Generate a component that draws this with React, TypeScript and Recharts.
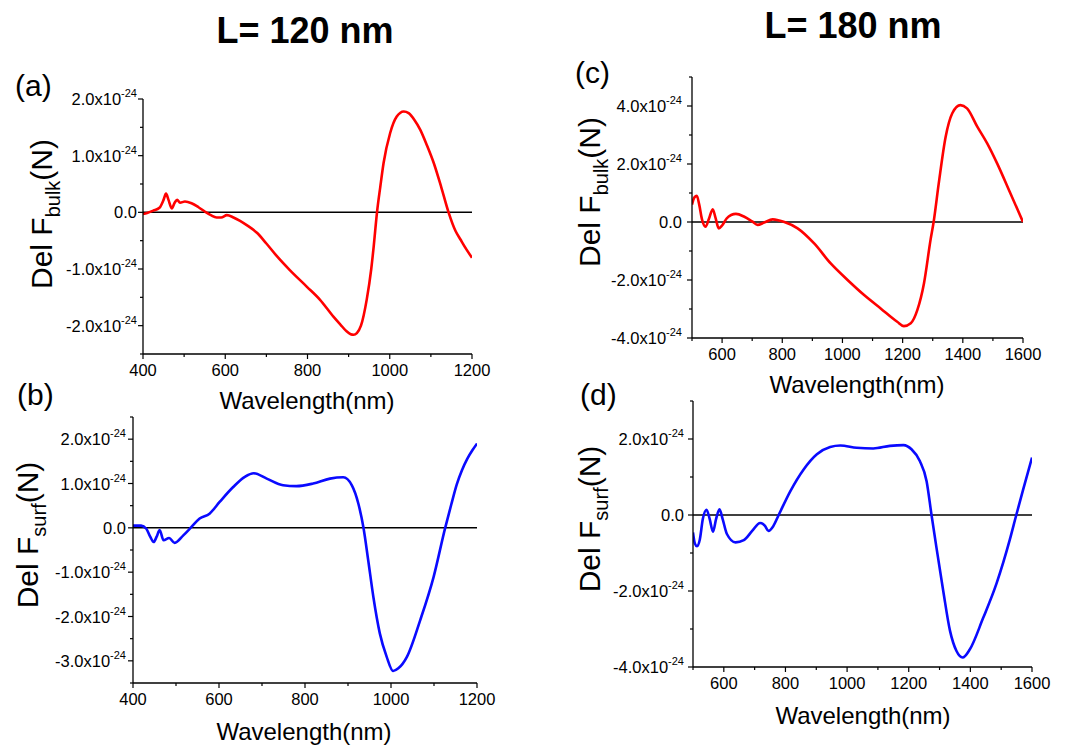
import React from "react";
import { LineChart, Line, XAxis, YAxis, ReferenceLine } from "recharts";

const FONT = "'Liberation Sans', Arial, sans-serif";

// wavelength in nm, force in units of 1e-24 N
const wlA = [400, 410, 425, 440, 450, 456, 462, 470, 477, 483, 490, 502, 518, 535, 551, 565, 579, 590, 604, 620, 636, 655, 677, 700, 725, 757, 798, 830, 863, 880, 895, 905, 912, 920, 930, 944, 955, 961, 969, 977, 985, 1001, 1017, 1034, 1046, 1060, 1074, 1090, 1107, 1125, 1143, 1160, 1172, 1186, 1200];
const bulkA = [-0.03, -0.01, 0.03, 0.08, 0.22, 0.33, 0.22, 0.07, 0.17, 0.22, 0.17, 0.19, 0.16, 0.09, 0.01, -0.05, -0.09, -0.09, -0.05, -0.09, -0.15, -0.24, -0.36, -0.55, -0.77, -1.02, -1.31, -1.54, -1.84, -1.98, -2.1, -2.15, -2.16, -2.13, -2.0, -1.54, -1.0, -0.6, 0.0, 0.45, 0.87, 1.4, 1.69, 1.78, 1.75, 1.63, 1.46, 1.19, 0.87, 0.45, 0.0, -0.33, -0.48, -0.65, -0.8];

const wlB = [400, 419, 431, 440, 448, 455, 462, 471, 484, 497, 517, 536, 555, 578, 602, 633, 660, 681, 711, 749, 780, 819, 858, 889, 909, 924, 936, 947, 959, 974, 990, 1005, 1017, 1037, 1068, 1099, 1126, 1140, 1153, 1165, 1177, 1190, 1200];
const surfB = [0.05, 0.05, -0.02, -0.2, -0.32, -0.2, -0.05, -0.28, -0.23, -0.34, -0.17, 0.02, 0.21, 0.32, 0.59, 0.92, 1.15, 1.23, 1.11, 0.96, 0.94, 1.0, 1.11, 1.14, 0.96, 0.55, 0.0, -0.73, -1.56, -2.38, -2.91, -3.23, -3.17, -2.91, -2.08, -1.11, 0.0, 0.52, 0.98, 1.3, 1.55, 1.76, 1.9];

const wlC = [500, 508, 516, 524, 533, 545, 556, 569, 578, 589, 600, 615, 630, 646, 674, 700, 718, 740, 768, 790, 807, 851, 906, 961, 1017, 1072, 1127, 1182, 1204, 1227, 1249, 1271, 1293, 1303, 1320, 1343, 1365, 1392, 1414, 1448, 1481, 1514, 1558, 1600];
const bulkC = [0.6, 0.85, 0.9, 0.6, 0.1, -0.16, 0.1, 0.44, 0.15, -0.22, -0.12, 0.12, 0.24, 0.28, 0.18, 0.02, -0.1, -0.02, 0.09, 0.05, 0.0, -0.22, -0.74, -1.43, -2.0, -2.52, -2.98, -3.44, -3.59, -3.49, -3.03, -2.11, -0.6, 0.0, 1.33, 2.94, 3.75, 4.03, 3.92, 3.29, 2.71, 2.02, 0.99, 0.0];

const wlD = [500, 506, 513, 522, 532, 544, 554, 565, 575, 586, 596, 610, 638, 665, 692, 718, 733, 745, 760, 778, 816, 859, 902, 945, 978, 1031, 1085, 1139, 1183, 1209, 1236, 1258, 1274, 1290, 1312, 1334, 1355, 1375, 1398, 1441, 1485, 1528, 1549, 1571, 1600];
const surfD = [-0.46, -0.75, -0.82, -0.65, -0.1, 0.14, -0.1, -0.44, -0.1, 0.15, -0.1, -0.5, -0.72, -0.66, -0.42, -0.21, -0.28, -0.42, -0.3, 0.0, 0.63, 1.2, 1.6, 1.79, 1.83, 1.77, 1.75, 1.82, 1.84, 1.73, 1.42, 0.89, 0.0, -0.86, -2.0, -3.05, -3.58, -3.75, -3.54, -2.72, -1.8, -0.65, 0.0, 0.66, 1.51];

// axis ticks (all) and the labelled ones
const xTicksAB = [400, 500, 600, 700, 800, 900, 1000, 1100, 1200];
const xLabelsAB = [400, 600, 800, 1000, 1200];
const xTicksCD = [500, 600, 700, 800, 900, 1000, 1100, 1200, 1300, 1400, 1500, 1600];
const xLabelsCD = [600, 800, 1000, 1200, 1400, 1600];
const yTicksA = [-2.5, -2, -1.5, -1, -0.5, 0, 0.5, 1, 1.5, 2];
const yLabelsA = [-2, -1, 0, 1, 2];
const yTicksB = [-3.5, -3, -2.5, -2, -1.5, -1, -0.5, 0, 0.5, 1, 1.5, 2, 2.5];
const yLabelsB = [-3, -2, -1, 0, 1, 2];
const yTicksC = [-4, -3, -2, -1, 0, 1, 2, 3, 4, 5];
const yLabelsC = [-4, -2, 0, 2, 4];
const yTicksD = [-4, -3, -2, -1, 0, 1, 2, 3];
const yLabelsD = [-4, -2, 0, 2];

const zip = (xs: number[], ys: number[]) => xs.map((x, i) => ({ wl: x, f: ys[i] }));

type Box = { x0: number; y0: number; x1: number; y1: number };
type Plot = { left: number; top: number; right: number; bottom: number };

const YTitle = ({ tx, ty, sub }: any) => (
  <text x={tx} y={ty} transform={`rotate(-90, ${tx}, ${ty})`} textAnchor="middle" fontFamily={FONT} fontSize={30} fill="#000">
    Del F<tspan fontSize={20} dy={8}>{sub}</tspan>
    <tspan dy={-8}>(N)</tspan>
  </text>
);

const XTitle = ({ tx, ty }: any) => (
  <text x={tx} y={ty} textAnchor="middle" fontFamily={FONT} fontSize={24} fill="#000">
    Wavelength(nm)
  </text>
);

type PanelProps = {
  box: Box;
  plot: Plot;
  data: { wl: number; f: number }[];
  color: string;
  xDomain: [number, number];
  yDomain: [number, number];
  xTicks: number[];
  xLabels: number[];
  yTicks: number[];
  yLabels: number[];
  sub: string;
  yTitlePos: [number, number];
  xTitlePos: [number, number];
  gap: number;
};

const Panel = (p: PanelProps) => {
  const { box, plot } = p;
  const w = box.x1 - box.x0;
  const h = box.y1 - box.y0;
  const axisX = plot.left - box.x0;
  const axisY = plot.bottom - box.y0;
  const margin = { top: plot.top - box.y0, right: box.x1 - plot.right, bottom: 0, left: 0 };

  const xTick = (t: any) => {
    const v = t.payload.value;
    const major = p.xLabels.includes(v);
    return (
      <g>
        <line x1={t.x} x2={t.x} y1={axisY} y2={axisY + (major ? 5 : 3)} stroke="#000" strokeWidth={1.2} />
        {major && (
          <text x={t.x} y={axisY + 22} textAnchor="middle" fontFamily={FONT} fontSize={16.5} fill="#000">
            {v}
          </text>
        )}
      </g>
    );
  };

  const yTick = (t: any) => {
    const v = t.payload.value;
    const major = p.yLabels.includes(v);
    return (
      <g>
        <line x1={axisX - (major ? 5 : 3)} x2={axisX} y1={t.y} y2={t.y} stroke="#000" strokeWidth={1.2} />
        {major && (
          <text x={axisX - p.gap} y={t.y + 6} textAnchor="end" fontFamily={FONT} fontSize={16.5} fill="#000">
            {v === 0 ? "0.0" : `${v.toFixed(1)}x10`}
            {v !== 0 && (
              <tspan fontSize={11} dy={-8}>
                -24
              </tspan>
            )}
          </text>
        )}
      </g>
    );
  };

  return (
    <div style={{ position: "absolute", left: box.x0, top: box.y0 }}>
      <LineChart width={w} height={h} data={p.data} margin={margin}>
        <XAxis
          type="number"
          dataKey="wl"
          domain={p.xDomain}
          ticks={p.xTicks}
          interval={0}
          allowDataOverflow
          height={h - axisY}
          axisLine={{ stroke: "#000", strokeWidth: 1.3 }}
          tickLine={false}
          tick={xTick}
          label={<XTitle tx={p.xTitlePos[0] - box.x0} ty={p.xTitlePos[1] - box.y0} />}
        />
        <YAxis
          type="number"
          domain={p.yDomain}
          ticks={p.yTicks}
          interval={0}
          allowDataOverflow
          width={axisX}
          axisLine={{ stroke: "#000", strokeWidth: 1.3 }}
          tickLine={false}
          tick={yTick}
          label={<YTitle tx={p.yTitlePos[0] - box.x0} ty={p.yTitlePos[1] - box.y0} sub={p.sub} />}
        />
        <ReferenceLine y={0} stroke="#000" strokeWidth={1.5} />
        <Line dataKey="f" type="monotone" stroke={p.color} strokeWidth={2.6} dot={false} isAnimationActive={false} />
      </LineChart>
    </div>
  );
};

const RED = "#ff0000";
const BLUE = "#0a0aff";

export default function App() {
  return (
    <div style={{ position: "absolute", left: 0, top: 0, width: 1067, height: 746, background: "#fff", overflow: "hidden" }}>
      <Panel
        box={{ x0: 0, y0: 60, x1: 530, y1: 418 }}
        plot={{ left: 143, top: 99, right: 472, bottom: 354 }}
        data={zip(wlA, bulkA)}
        color={RED}
        xDomain={[400, 1200]}
        yDomain={[-2.5, 2]}
        xTicks={xTicksAB}
        xLabels={xLabelsAB}
        yTicks={yTicksA}
        yLabels={yLabelsA}
        sub="bulk"
        yTitlePos={[52, 214]}
        xTitlePos={[307, 409]}
        gap={6}
      />
      <Panel
        box={{ x0: 0, y0: 412, x1: 530, y1: 746 }}
        plot={{ left: 133, top: 417, right: 477, bottom: 683 }}
        data={zip(wlB, surfB)}
        color={BLUE}
        xDomain={[400, 1200]}
        yDomain={[-3.5, 2.5]}
        xTicks={xTicksAB}
        xLabels={xLabelsAB}
        yTicks={yTicksB}
        yLabels={yLabelsB}
        sub="surf"
        yTitlePos={[38, 535]}
        xTitlePos={[304, 740]}
        gap={7}
      />
      <Panel
        box={{ x0: 530, y0: 50, x1: 1067, y1: 402 }}
        plot={{ left: 692, top: 77, right: 1023, bottom: 338 }}
        data={zip(wlC, bulkC)}
        color={RED}
        xDomain={[500, 1600]}
        yDomain={[-4, 5]}
        xTicks={xTicksCD}
        xLabels={xLabelsCD}
        yTicks={yTicksC}
        yLabels={yLabelsC}
        sub="bulk"
        yTitlePos={[600, 192]}
        xTitlePos={[857, 393]}
        gap={10}
      />
      <Panel
        box={{ x0: 530, y0: 397, x1: 1067, y1: 746 }}
        plot={{ left: 693, top: 401, right: 1032, bottom: 667 }}
        data={zip(wlD, surfD)}
        color={BLUE}
        xDomain={[500, 1600]}
        yDomain={[-4, 3]}
        xTicks={xTicksCD}
        xLabels={xLabelsCD}
        yTicks={yTicksD}
        yLabels={yLabelsD}
        sub="surf"
        yTitlePos={[600, 519]}
        xTitlePos={[863, 724]}
        gap={9}
      />
      <svg width={1067} height={746} style={{ position: "absolute", left: 0, top: 0, pointerEvents: "none" }}>
        <g fontFamily={FONT} fill="#000">
          <text x={305} y={43} textAnchor="middle" fontSize={36} fontWeight="bold">L= 120 nm</text>
          <text x={853} y={38} textAnchor="middle" fontSize={36} fontWeight="bold">L= 180 nm</text>
          <text x={15} y={96} fontSize={30}>(a)</text>
          <text x={17} y={405} fontSize={30}>(b)</text>
          <text x={575} y={83} fontSize={30}>(c)</text>
          <text x={580} y={405} fontSize={30}>(d)</text>
        </g>
      </svg>
    </div>
  );
}
